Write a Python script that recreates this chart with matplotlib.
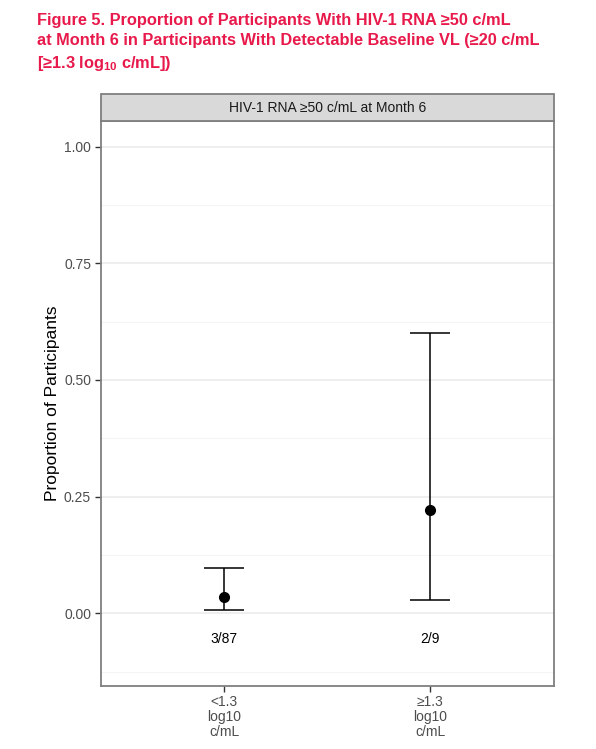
"""
Proportion of participants with HIV-1 RNA >=50 c/mL at Month 6,
by baseline viral load, with 95% CI error bars.
"""

import matplotlib.pyplot as plt
from matplotlib.patches import Rectangle

categories = ["<1.3\nlog10\nc/mL", "\u22651.3\nlog10\nc/mL"]
responders = [3, 2]
totals = [87, 9]
ci_low = [0.0072, 0.0281]
ci_high = [0.0975, 0.6001]
y_ticks = [0.0, 0.25, 0.5, 0.75, 1.0]
y_minor = [-0.125, 0.125, 0.375, 0.625, 0.875]

plt.rcParams["font.family"] = ["Liberation Sans", "DejaVu Sans"]
plt.rcParams["mathtext.fontset"] = "custom"
plt.rcParams["mathtext.bf"] = "Liberation Sans:bold"
plt.rcParams["mathtext.rm"] = "Liberation Sans:bold"
plt.rcParams["mathtext.default"] = "bf"


def generate_chart():
    fig = plt.figure(figsize=(5.96, 7.49), dpi=100)
    ax = fig.add_axes([0.169, 0.0845, 0.7605, 0.754])

    x = list(range(1, len(categories) + 1))
    props = [r / n for r, n in zip(responders, totals)]
    err = [[p - lo for p, lo in zip(props, ci_low)],
           [hi - p for p, hi in zip(props, ci_high)]]

    for v in y_minor:
        ax.axhline(v, color="#F4F4F4", lw=0.8, zorder=0)
    for v in y_ticks:
        ax.axhline(v, color="#EBEBEB", lw=1.2, zorder=0)

    ax.errorbar(x, props, yerr=err, fmt="o", color="black", ms=7,
                elinewidth=1.1, capsize=14.5, capthick=1.1, zorder=3)

    for xi, r, n in zip(x, responders, totals):
        ax.text(xi, -0.054, f"{r}/{n}", ha="center", va="center",
                fontsize=10, color="black")

    ax.set_xlim(0.4, 2.6)
    ax.set_ylim(-0.155, 1.055)
    ax.set_xticks(x)
    ax.set_xticklabels(categories, fontsize=10, color="#4D4D4D",
                       linespacing=1.05)
    ax.set_yticks(y_ticks)
    ax.set_yticklabels([f"{v:.2f}" for v in y_ticks], fontsize=10,
                       color="#4D4D4D")
    ax.tick_params(length=4, width=1, color="#333333", pad=3)
    ax.set_ylabel("Proportion of Participants", fontsize=12.5,
                  color="black", labelpad=3)
    for s in ax.spines.values():
        s.set_color("#7F7F7F")
        s.set_linewidth(1.3)

    # facet strip above the panel
    strip = Rectangle((0.169, 1 - 121 / 749), 0.7605, 27 / 749,
                      transform=fig.transFigure, facecolor="#D9D9D9",
                      edgecolor="#7F7F7F", lw=1.3)
    fig.patches.append(strip)
    fig.text(0.169 + 0.7605 / 2, 1 - 107.5 / 749,
             "HIV-1 RNA \u226550 c/mL at Month 6", ha="center",
             va="center", fontsize=10, color="#1A1A1A")

    title = ("Figure 5. Proportion of Participants With HIV-1 RNA \u226550 c/mL\n"
             "at Month 6 in Participants With Detectable Baseline VL (\u226520 c/mL\n"
             "[\u22651.3 log$_{10}$ c/mL])")
    fig.text(37 / 596, 1 - 13 / 749, title, ha="left", va="top",
             fontsize=11.8, fontweight="bold", color="#E8194B",
             linespacing=1.42)

    fig.savefig("out.png", dpi=100)


if __name__ == "__main__":
    generate_chart()
